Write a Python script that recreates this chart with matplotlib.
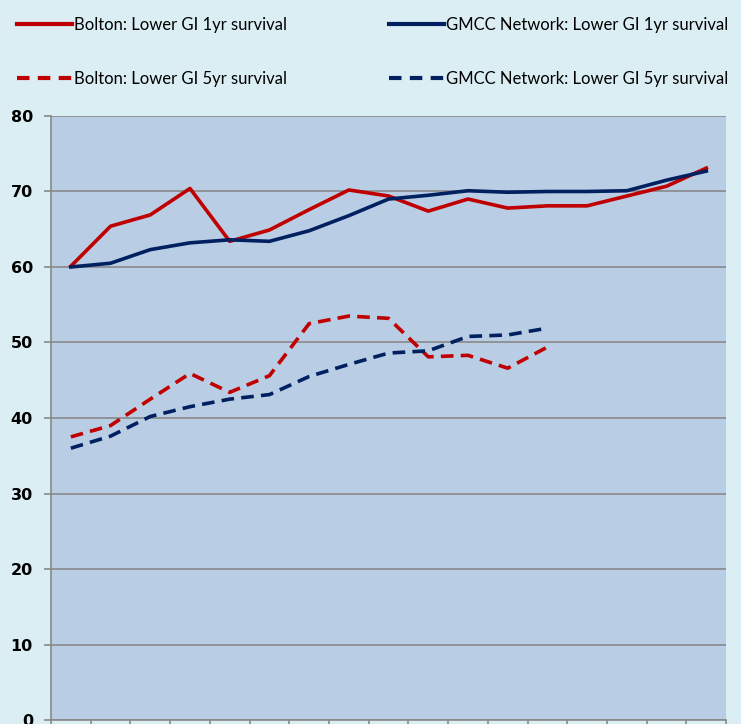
import numpy as np
import matplotlib.pyplot as plt
from matplotlib.lines import Line2D

# 17 yearly cohorts, no x labels shown on the chart
bolton_1yr = [60.1, 65.4, 66.9, 70.4, 63.4, 64.9, 67.6, 70.2, 69.4, 67.4, 69.0, 67.8, 68.1, 68.1, 69.4, 70.7, 73.1]
gmcc_1yr = [60.0, 60.5, 62.3, 63.2, 63.6, 63.4, 64.8, 66.8, 69.0, 69.5, 70.1, 69.9, 70.0, 70.0, 70.1, 71.5, 72.7]
bolton_5yr = [37.5, 39.0, 42.5, 45.9, 43.4, 45.6, 52.5, 53.5, 53.2, 48.1, 48.3, 46.6, 49.4]
gmcc_5yr = [36.0, 37.6, 40.2, 41.5, 42.5, 43.1, 45.5, 47.1, 48.6, 48.9, 50.8, 51.0, 51.9]
yticks = list(range(0, 81, 10))
labels = ['Bolton: Lower GI 1yr survival', 'Bolton: Lower GI 5yr survival',
          'GMCC Network: Lower GI 1yr survival', 'GMCC Network: Lower GI 5yr survival']

red = '#C00000'
navy = '#002060'
plt.rcParams['font.family'] = ['Lato', 'DejaVu Sans']

fig = plt.figure(figsize=(7.41, 7.24), dpi=100, facecolor='#DBEEF4')
ax = fig.add_axes([0.0688, 0.0055, 0.9112, 0.8343])
ax.set_facecolor('#B9CDE5')

dash = (3.5, 2)
ax.plot(range(len(bolton_1yr)), bolton_1yr, color=red, lw=2.6)
ax.plot(range(len(gmcc_1yr)), gmcc_1yr, color=navy, lw=2.6)
ax.plot(range(len(bolton_5yr)), bolton_5yr, color=red, lw=2.6, dashes=dash)
ax.plot(range(len(gmcc_5yr)), gmcc_5yr, color=navy, lw=2.6, dashes=dash)

ax.set_xlim(-0.5, len(bolton_1yr) - 0.5)
ax.set_ylim(0, 80)
ax.set_yticks(yticks)
ax.set_yticklabels([str(v) for v in yticks], fontweight='bold', fontsize=11.5,
                   fontfamily='DejaVu Sans')
ax.set_xticks(np.arange(-0.5, len(bolton_1yr), 1))
ax.set_xticklabels([])
ax.grid(axis='y', color='#888888', lw=1.2)
ax.set_axisbelow(True)
for s in ['top', 'right']:
    ax.spines[s].set_visible(False)
for s in ['left', 'bottom']:
    ax.spines[s].set_color('#888888')
    ax.spines[s].set_linewidth(1.2)
ax.tick_params(axis='y', colors='#888888', length=5, width=1.2, labelcolor='black', pad=8)
ax.tick_params(axis='x', colors='#888888', length=5, width=1.2)

handles = [Line2D([], [], color=red, lw=3),
           Line2D([], [], color=red, lw=3, dashes=(3, 2)),
           Line2D([], [], color=navy, lw=3),
           Line2D([], [], color=navy, lw=3, dashes=(3, 2))]
fig.legend(handles, labels, ncol=2, loc='upper left', bbox_to_anchor=(0.0, 1.0),
           frameon=False, fontsize=12, handlelength=3.3, handletextpad=0.15,
           labelspacing=2.3, columnspacing=6.1, borderaxespad=0.6)

fig.savefig('out.png', dpi=100, facecolor=fig.get_facecolor())
